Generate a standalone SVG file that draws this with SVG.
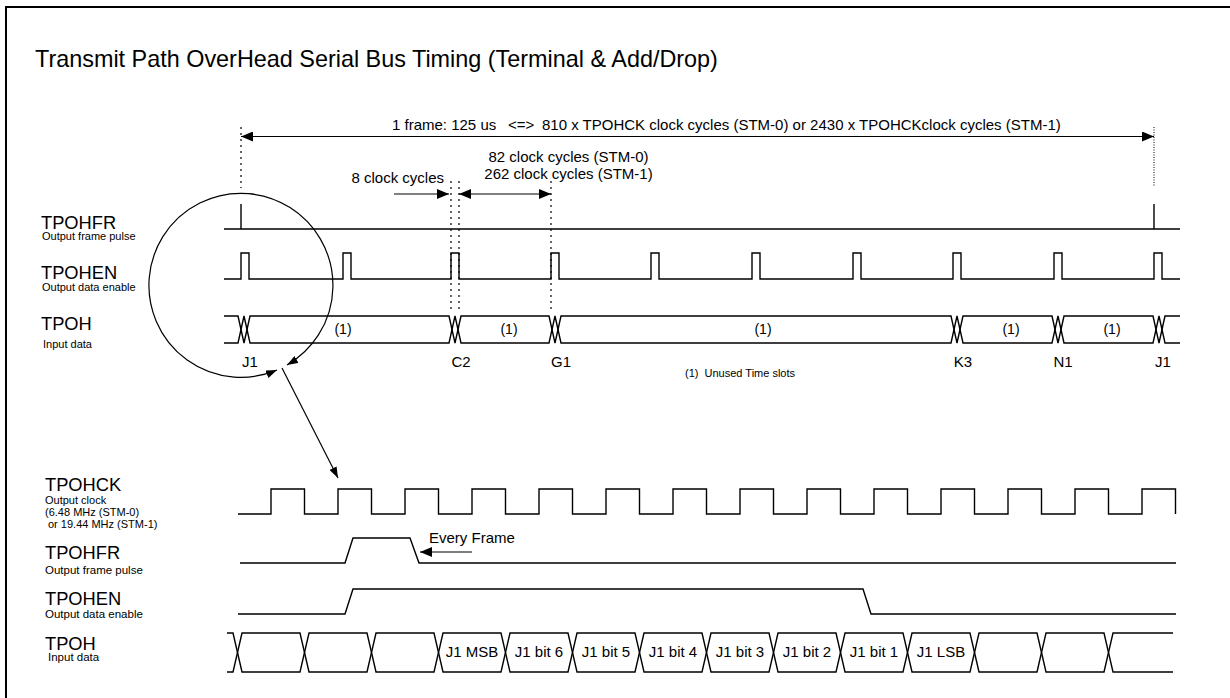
<svg xmlns="http://www.w3.org/2000/svg" width="1230" height="698" viewBox="0 0 1230 698">
<style>
text{font-family:"Liberation Sans",Arial,sans-serif;fill:#000}
.title{font-size:23.4px}
.sig{font-size:18.3px}
.sub{font-size:11px}
.subb{font-size:11.5px}
.frq{font-size:11px}
.med{font-size:15px}
.one{font-size:14px}
.note{font-size:11px}
.mid{text-anchor:middle}
.end{text-anchor:end}
.w{fill:none;stroke:#000;stroke-width:1.4;stroke-linejoin:miter}
.a{fill:none;stroke:#000;stroke-width:1.2}
.dot{fill:none;stroke:#000;stroke-width:1.2;stroke-dasharray:2 4}
.dotf{fill:none;stroke:#000;stroke-width:1;stroke-dasharray:1 1.5}
.frame{fill:none;stroke:#000;stroke-width:2}
</style>
<defs>
<marker id="ah" viewBox="0 0 12 10" refX="12" refY="5" markerWidth="12" markerHeight="10" markerUnits="userSpaceOnUse" orient="auto-start-reverse"><path d="M0,0 L12,5 L0,10 z" fill="#000"/></marker>
<marker id="ahs" viewBox="0 0 11 8" refX="11" refY="4" markerWidth="11" markerHeight="8" markerUnits="userSpaceOnUse" orient="auto-start-reverse"><path d="M0,0 L11,4 L0,8 z" fill="#000"/></marker>
</defs>
<rect x="0" y="0" width="1230" height="698" fill="#fff"/>
<path class="frame" d="M6,698 V7 H1230"/>
<text class="title" x="35" y="67">Transmit Path OverHead Serial Bus Timing (Terminal &amp; Add/Drop)</text>

<g id="top-labels">
<text class="sig" x="41" y="229">TPOHFR</text>
<text class="sub" x="42" y="240">Output frame pulse</text>
<text class="sig" x="41" y="279">TPOHEN</text>
<text class="sub" x="42" y="291">Output data enable</text>
<text class="sig" x="41" y="330">TPOH</text>
<text class="sub" x="43" y="348">Input data</text>
</g>

<g id="top-waves">
<path class="w" d="M224,229 H1180 M241,204 V229 M1154,204 V229"/>
<path class="w" d="M224,279 H241 V253 H249 V279 H343 V253 H351 V279 H451 V253 H459 V279 H551 V253 H559 V279 H651 V253 H659 V279 H752 V253 H760 V279 H853 V253 H861 V279 H953 V253 H961 V279 H1054 V253 H1062 V279 H1154 V253 H1162 V279 H1180"/>
<path class="w" d="M224,316 H238 L244,343 L250,316 H449 L455,343 L461,316 H549 L555,343 L561,316 H951 L957,343 L963,316 H1052 L1058,343 L1064,316 H1153 L1159,343 L1165,316 H1180"/>
<path class="w" d="M224,343 H238 L244,316 L250,343 H449 L455,316 L461,343 H549 L555,316 L561,343 H951 L957,316 L963,343 H1052 L1058,316 L1064,343 H1153 L1159,316 L1165,343 H1180"/>
<text class="one mid" x="343" y="334">(1)</text>
<text class="one mid" x="509" y="334">(1)</text>
<text class="one mid" x="763" y="334">(1)</text>
<text class="one mid" x="1011" y="334">(1)</text>
<text class="one mid" x="1112" y="334">(1)</text>
<text class="med mid" x="250" y="367">J1</text>
<text class="med mid" x="461" y="367">C2</text>
<text class="med mid" x="561" y="367">G1</text>
<text class="med mid" x="963" y="367">K3</text>
<text class="med mid" x="1063" y="367">N1</text>
<text class="med mid" x="1163" y="367">J1</text>
<text class="note" x="685" y="377" xml:space="preserve">(1)  Unused Time slots</text>
</g>

<g id="connectors">
<path class="dot" d="M241,127 V188"/>
<path class="dotf" d="M1154,127 V186"/>
<path class="dot" d="M451,181 V313 M459,181 V313 M551,181 V313"/>
<path class="a" d="M241,136.5 H1154" marker-start="url(#ah)" marker-end="url(#ah)"/>
<path class="a" d="M394,194 H449" marker-end="url(#ah)"/>
<path class="a" d="M459,194 H551" marker-start="url(#ah)" marker-end="url(#ah)"/>
<path class="a" d="M277,370 A92,92 0 1 1 287,365" marker-start="url(#ahs)" marker-end="url(#ahs)"/>
<path class="a" d="M282,368 L338,478" marker-end="url(#ahs)"/>
<path class="a" d="M472,552 H420" marker-end="url(#ah)"/>
</g>

<g id="top-annotations">
<text class="med" x="392" y="130">1 frame: 125 us</text>
<text class="med" x="508" y="130">&lt;=&gt;</text>
<text class="med" x="542" y="130">810 x TPOHCK clock cycles (STM-0) or 2430 x TPOHCKclock cycles (STM-1)</text>
<text class="med mid" x="568.5" y="161.5">82 clock cycles (STM-0)</text>
<text class="med mid" x="568.5" y="179">262 clock cycles (STM-1)</text>
<text class="med end" x="444" y="183">8 clock cycles</text>
</g>

<g id="bottom-labels">
<text class="sig" x="45" y="491">TPOHCK</text>
<text class="sub" x="45" y="503.5">Output clock</text>
<text class="frq" x="45" y="516">(6.48 MHz (STM-0)</text>
<text class="frq" x="48" y="528">or 19.44 MHz (STM-1)</text>
<text class="sig" x="45" y="559">TPOHFR</text>
<text class="subb" x="45" y="573.5">Output frame pulse</text>
<text class="sig" x="45" y="605">TPOHEN</text>
<text class="subb" x="45" y="617.5">Output data enable</text>
<text class="sig" x="45" y="650">TPOH</text>
<text class="subb" x="48" y="661">Input data</text>
</g>

<g id="bottom-waves">
<path class="w" d="M238,514 H271 V489 H304.5 V514 H338 V489 H371.5 V514 H405 V489 H438.5 V514 H472 V489 H505.5 V514 H539 V489 H572.5 V514 H606 V489 H639.5 V514 H673 V489 H706.5 V514 H740 V489 H773.5 V514 H807 V489 H840.5 V514 H874 V489 H907.5 V514 H941 V489 H974.5 V514 H1008 V489 H1041.5 V514 H1075 V489 H1108.5 V514 H1142 V489 H1175.5 V514"/>
<path class="w" d="M240,563 H345 L353,538 H410 L419,563 H1176"/>
<text class="med" x="429" y="543">Every Frame</text>
<path class="w" d="M238,614 H345 L353,589 H863 L871,614 H1176"/>
<path class="w" d="M227,633 H233 L242,672 H300 L309,633 H367 L376,672 H434 L443,633 H501 L510,672 H568 L577,633 H635 L644,672 H702 L711,633 H769 L778,672 H836 L845,633 H903 L912,672 H970 L979,633 H1037 L1046,672 H1104 L1113,633 H1173"/>
<path class="w" d="M227,672 H233 L242,633 H300 L309,672 H367 L376,633 H434 L443,672 H501 L510,633 H568 L577,672 H635 L644,633 H702 L711,672 H769 L778,633 H836 L845,672 H903 L912,633 H970 L979,672 H1037 L1046,633 H1104 L1113,672 H1173"/>
<text class="med mid" x="472" y="657">J1 MSB</text>
<text class="med mid" x="539" y="657">J1 bit 6</text>
<text class="med mid" x="606" y="657">J1 bit 5</text>
<text class="med mid" x="673" y="657">J1 bit 4</text>
<text class="med mid" x="740" y="657">J1 bit 3</text>
<text class="med mid" x="807" y="657">J1 bit 2</text>
<text class="med mid" x="874" y="657">J1 bit 1</text>
<text class="med mid" x="941" y="657">J1 LSB</text>
</g>
</svg>
